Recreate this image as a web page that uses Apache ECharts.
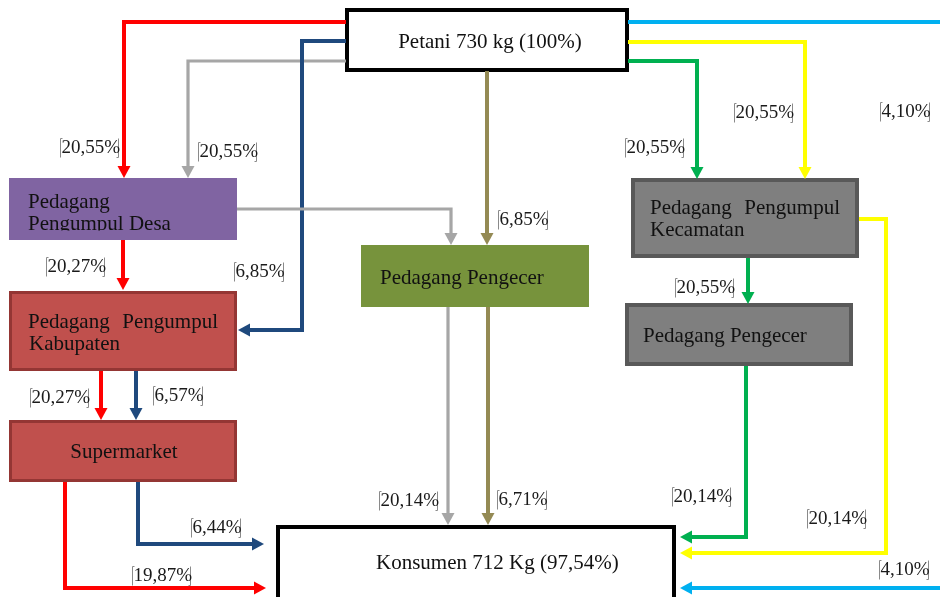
<!DOCTYPE html>
<html>
<head>
<meta charset="utf-8">
<script src="https://cdn.jsdelivr.net/npm/echarts@6/dist/echarts.min.js"></script>
<style>html,body{margin:0;padding:0;background:#fff}#c{width:940px;height:597px}</style>
</head>
<body>
<div id="c"></div>
<script>
// ---------- DATA ----------
const nodeNames = [
  'Petani 730 kg (100%)',
  'Pedagang Pengumpul Desa',
  'Pedagang Pengumpul Kabupaten',
  'Supermarket',
  'Pedagang Pengecer',
  'Pedagang Pengumpul Kecamatan',
  'Pedagang Pengecer',
  'Konsumen 712 Kg (97,54%)'
];
// flows: [from, to]
const flowFrom = [0, 0, 0, 1, 0, 0, 0, 0, 5, 5, 6, 0, 1, 2, 2, 3, 3, 4, 4];
const flowTo   = [1, 1, 2, 4, 4, 5, 5, 7, 7, 6, 7, 7, 2, 3, 3, 7, 7, 7, 7];
// flow share labels (percent of petani's 730 kg)
const flowValues = [20.55, 20.55, 6.85, 20.55, 6.85, 20.55, 20.55, 4.10, 20.14, 20.55, 20.14, 4.10, 20.27, 20.27, 6.57, 19.87, 6.44, 20.14, 6.71];

// ---------- LAYOUT / STYLE ----------
const C = {red:'#FF0000', gray:'#A6A6A6', blue:'#1F497D', olive:'#948A54', green:'#00B050', yellow:'#FFFF00', cyan:'#00B0F0'};
const nodeBox = [
  {r:[347,10,627,70], fill:'#FFFFFF', stroke:'#000000', lw:4},
  {r:[9,178,237,240], fill:'#8064A2', stroke:null, lw:0},
  {r:[10.5,292.5,235.5,369.5], fill:'#C0504D', stroke:'#943634', lw:3},
  {r:[10.5,421.5,235.5,480.5], fill:'#C0504D', stroke:'#943634', lw:3},
  {r:[361,245,589,307], fill:'#77933C', stroke:null, lw:0},
  {r:[633,180,857,256], fill:'#7F7F7F', stroke:'#595959', lw:4},
  {r:[627,305,851,364], fill:'#7F7F7F', stroke:'#595959', lw:4},
  {r:[278,527,674,604], fill:'#FFFFFF', stroke:'#000000', lw:4}
];
// text lines per node: [text-part, x, y, align]
const nodeText = [
  [[0, 490, 42, 'center']],
  [['Pedagang', 28, 202, 'left'], ['Pengumpul Desa', 28, 224, 'left']],
  [['Pedagang', 28, 322, 'left'], ['Pengumpul', 218, 322, 'right'], ['Kabupaten', 29, 344, 'left']],
  [[0, 124, 452, 'center']],
  [[0, 380, 278, 'left']],
  [['Pedagang', 650, 208, 'left'], ['Pengumpul', 840, 208, 'right'], ['Kecamatan', 650, 230, 'left']],
  [[0, 643, 336, 'left']],
  [[0, 376, 563, 'left']]
];
const edgeStyle = [
  {c:C.red, p:[[346,22],[124,22],[124,178]]},
  {c:C.gray, p:[[346,61],[188,61],[188,178]], w:3.2},
  {c:C.blue, p:[[346,41],[302,41],[302,330],[238,330]]},
  {c:C.gray, p:[[237,209],[451,209],[451,245]], w:3.2},
  {c:C.olive, p:[[487,71],[487,245]]},
  {c:C.green, p:[[628,61],[697,61],[697,179]]},
  {c:C.yellow, p:[[628,42],[805,42],[805,179]]},
  {c:C.cyan, p:[[628,22],[945,22]], noArrow:true},
  {c:C.yellow, p:[[859,219],[886,219],[886,553],[680,553]]},
  {c:C.green, p:[[748,258],[748,304]]},
  {c:C.green, p:[[746,366],[746,537],[680,537]]},
  {c:C.cyan, p:[[945,588],[680,588]]},
  {c:C.red, p:[[123,240],[123,290]]},
  {c:C.red, p:[[101,371],[101,420]]},
  {c:C.blue, p:[[136,371],[136,420]]},
  {c:C.red, p:[[65,482],[65,588],[266,588]]},
  {c:C.blue, p:[[138,482],[138,544],[264,544]]},
  {c:C.gray, p:[[448,307],[448,525]], w:3.2},
  {c:C.olive, p:[[488,307],[488,525]]}
];
// label anchor (left x, middle y)
const labelPos = [
  [60,148],[198,152],[234,272],[46,267],[498,220],[625,148],[734,113],[880,112],
  [807,519],[675,288],[672,497],[879,570],[30,398],[153,396],[132,576],[191,528],[379,501],[497,500]
];
// map label index to flow index
const labelFlow = [0,1,2,12,4,5,6,7,8,9,10,11,13,14,15,16,17,18];

const FONT = '"Liberation Serif", "DejaVu Serif", serif';
const LFONT = '19px ' + FONT;
const fmt = v => v.toFixed(2).replace('.', ',') + '%';
const mctx = document.createElement('canvas').getContext('2d');
function textW(t, f) { mctx.font = f; return mctx.measureText(t).width; }

function renderNode(params, api) {
  const i = params.dataIndex;
  const b = nodeBox[i];
  const p0 = api.coord([b.r[0], b.r[1]]), p1 = api.coord([b.r[2], b.r[3]]);
  const children = [{
    type:'rect', shape:{x:p0[0], y:p0[1], width:p1[0]-p0[0], height:p1[1]-p0[1]},
    style:{fill:b.fill, stroke:b.stroke || null, lineWidth:b.lw}
  }];
  nodeText[i].forEach(t => {
    const txt = typeof t[0] === 'number' ? nodeNames[i] : t[0];
    const q = api.coord([t[1], t[2]]);
    children.push({type:'text', style:{text:txt, x:q[0], y:q[1], fill:'#111', font:'21px ' + FONT, textAlign:t[3], textVerticalAlign:'middle'}});
  });
  if (i === 1) {
    // text box clipping at the bottom of the village collector box
    const a = api.coord([b.r[0], 230.5]), c = api.coord([b.r[2], b.r[3]]);
    children.push({type:'rect', shape:{x:a[0], y:a[1], width:c[0]-a[0], height:c[1]-a[1]}, style:{fill:b.fill}});
  }
  return {type:'group', children};
}

function renderEdge(params, api) {
  const e = edgeStyle[params.dataIndex];
  const pts = e.p.map(p => api.coord(p));
  const n = pts.length, a = pts[n-2], b = pts[n-1];
  const dx = b[0]-a[0], dy = b[1]-a[1], L = Math.hypot(dx, dy), ux = dx/L, uy = dy/L;
  const head = 12, hw = 6.5, lw = e.w || 4;
  const children = [];
  if (e.noArrow) {
    children.push({type:'polyline', shape:{points:pts}, style:{stroke:e.c, lineWidth:lw, fill:null}});
  } else {
    const base = [b[0]-ux*head, b[1]-uy*head];
    children.push({type:'polyline', shape:{points:pts.slice(0, n-1).concat([[base[0]+ux*1, base[1]+uy*1]])}, style:{stroke:e.c, lineWidth:lw, fill:null}});
    children.push({type:'polygon', shape:{points:[b, [base[0]-uy*hw, base[1]+ux*hw], [base[0]+uy*hw, base[1]-ux*hw]]}, style:{fill:e.c}});
  }
  return {type:'group', children};
}

function renderLabel(params, api) {
  const i = params.dataIndex;
  const q = api.coord(labelPos[i]);
  const txt = fmt(flowValues[labelFlow[i]]);
  const w = textW(txt, LFONT);
  const x0 = Math.round(q[0]) + 0.5, y0 = q[1];
  const top = y0 - 9.5, bot = y0 + 9.5;
  const x1 = Math.round(x0 + 1 + w - 2) + 0.5;
  const br = {stroke:'#8a8a8a', lineWidth:1, fill:null};
  return {type:'group', children:[
    {type:'polyline', shape:{points:[[x0+2, top], [x0, top], [x0, bot]]}, style:br},
    {type:'polyline', shape:{points:[[x1, top], [x1, bot], [x1-2, bot]]}, style:br},
    {type:'text', style:{text:txt, x:x0 + 1, y:y0, textVerticalAlign:'middle', textAlign:'left', fill:'#1a1a1a', font:LFONT}}
  ]};
}

const chart = echarts.init(document.getElementById('c'));
chart.setOption({
  backgroundColor:'#FFFFFF',
  animation:false,
  grid:{left:0, right:0, top:0, bottom:0},
  xAxis:{type:'value', min:0, max:940, show:false},
  yAxis:{type:'value', min:0, max:597, inverse:true, show:false},
  series:[
    {type:'custom', name:'nodes', renderItem:renderNode, data:nodeNames.map((n, i) => [nodeBox[i].r[0], nodeBox[i].r[1]]), z:2},
    {type:'custom', name:'flows', renderItem:renderEdge, data:flowFrom.map((f, i) => [edgeStyle[i].p[0][0], edgeStyle[i].p[0][1]]), z:3},
    {type:'custom', name:'labels', renderItem:renderLabel, data:labelPos.map(p => [p[0], p[1]]), z:4}
  ]
});
</script>
</body>
</html>
